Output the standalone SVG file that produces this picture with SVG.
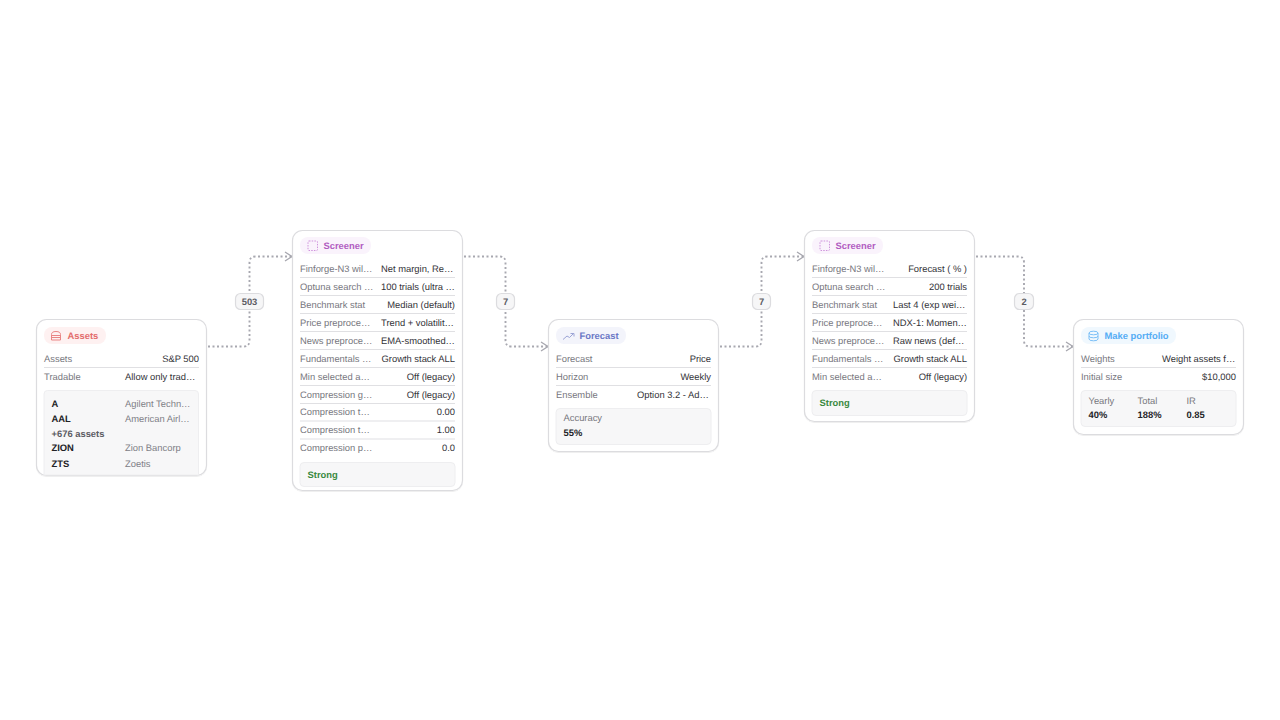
<svg xmlns="http://www.w3.org/2000/svg" width="1280" height="720" viewBox="0 0 1280 720">
<defs>
<filter id="sh" x="-5%" y="-5%" width="110%" height="110%"><feDropShadow dx="0" dy="0.8" stdDeviation="0.7" flood-color="#000" flood-opacity="0.08"/></filter>
<marker id="ah" markerUnits="userSpaceOnUse" markerWidth="10" markerHeight="12" refX="8" refY="5.500" orient="auto"><path d="M1 1L8 5.500L1 10" fill="none" stroke="#a6a6ae" stroke-width="1.300"/></marker>
</defs>
<style>
text{font-family:"Liberation Sans",Arial,sans-serif;font-size:9.400px;text-rendering:geometricPrecision}
.card{fill:#fff;stroke:#dcdcdf;stroke-width:1.200;filter:url(#sh)}
.k{fill:#77777e}
.v{fill:#333338}
.e{text-anchor:end}
.b{font-weight:700;fill:#222226}
.m{fill:#808087}
.ln{stroke:#e0e0e3;stroke-width:1.200}
.box{fill:#f7f7f8;stroke:#eeeef0;stroke-width:1}
.t{font-weight:700}
.edge{fill:none;stroke:#a8a8b0;stroke-width:1.900;stroke-dasharray:2 2.500;marker-end:url(#ah)}
.lb{fill:#f6f6f7;stroke:#dcdcdf;stroke-width:1.200}
.lt{font-weight:700;fill:#5c5c63;text-anchor:middle}
.g{font-weight:700;fill:#3a8a3f}
</style>
<g id="connectors">
<path class="edge" d="M208 346.500H243.500Q249.500 346.500 249.500 340.500V262.500Q249.500 256.500 255.500 256.500H292"/>
<path class="edge" d="M464 256.500H499.500Q505.500 256.500 505.500 262.500V340.500Q505.500 346.500 511.500 346.500H548"/>
<path class="edge" d="M720 346.500H755.500Q761.500 346.500 761.500 340.500V262.500Q761.500 256.500 767.500 256.500H804"/>
<path class="edge" d="M976 256.500H1018Q1024 256.500 1024 262.500V340.500Q1024 346.500 1030 346.500H1073"/>
<rect class="lb" x="235.500" y="293.500" width="28" height="16" rx="5"/><text class="lt" x="249.500" y="305">503</text>
<rect class="lb" x="496.500" y="293.500" width="18" height="16" rx="5"/><text class="lt" x="505.500" y="305">7</text>
<rect class="lb" x="752.500" y="293.500" width="18" height="16" rx="5"/><text class="lt" x="761.500" y="305">7</text>
<rect class="lb" x="1014.500" y="293.500" width="19" height="16" rx="5"/><text class="lt" x="1024" y="305">2</text>
</g>
<g id="node-assets">
<rect class="card" x="36.500" y="319.500" width="170" height="156" rx="10"/>
<rect x="44" y="327" width="62" height="17" rx="8" fill="#fef1f1"/>
<g fill="none" stroke="#e98585" stroke-width="1"><path d="M51.500 334.500Q51.500 331.500 56 331.500Q60.500 331.500 60.500 334.500V340H51.500Z"/><path d="M51.500 335.500H60.500M51.500 337.500H60.500"/></g>
<text class="t" x="67.500" y="339" fill="#e36c6c">Assets</text>
<text class="k" x="44" y="362">Assets</text><text class="v e" x="199" y="362">S&amp;P 500</text>
<line class="ln" x1="44" x2="199" y1="367.500" y2="367.500"/>
<text class="k" x="44" y="380">Tradable</text><text class="v" x="125" y="380">Allow only trad…</text>
<path class="box" d="M44 475V394Q44 390.500 47.500 390.500H195Q198.500 390.500 198.500 394V475Z"/>
<text class="b" x="51.500" y="407">A</text><text class="m" x="125" y="407">Agilent Techn…</text>
<text class="b" x="51.500" y="422">AAL</text><text class="m" x="125" y="422">American Airl…</text>
<text class="b" x="51.500" y="437" style="fill:#5c5c63">+676 assets</text>
<text class="b" x="51.500" y="451">ZION</text><text class="m" x="125" y="451">Zion Bancorp</text>
<text class="b" x="51.500" y="467">ZTS</text><text class="m" x="125" y="467">Zoetis</text>
</g>
<g id="node-screener-1">
<rect class="card" x="292.500" y="230.500" width="170" height="260" rx="10"/>
<rect x="300" y="237" width="71" height="17" rx="8" fill="#faf3fc"/>
<rect x="308" y="241" width="9.500" height="9.500" rx="1" fill="none" stroke="#cf93dc" stroke-dasharray="1.500 1.200"/>
<text class="t" x="323.500" y="249" fill="#b15cc1">Screener</text>
<text class="k" x="300" y="272">Finforge-N3 wil…</text><text class="v" x="381" y="272">Net margin, Re…</text>
<line class="ln" x1="300" x2="455" y1="277.500" y2="277.500"/>
<text class="k" x="300" y="290">Optuna search …</text><text class="v" x="381" y="290">100 trials (ultra …</text>
<line class="ln" x1="300" x2="455" y1="295.500" y2="295.500"/>
<text class="k" x="300" y="308">Benchmark stat</text><text class="v e" x="455" y="308">Median (default)</text>
<line class="ln" x1="300" x2="455" y1="313.500" y2="313.500"/>
<text class="k" x="300" y="326">Price preproce…</text><text class="v" x="381" y="326">Trend + volatilit…</text>
<line class="ln" x1="300" x2="455" y1="331.500" y2="331.500"/>
<text class="k" x="300" y="344">News preproce…</text><text class="v" x="381" y="344">EMA-smoothed…</text>
<line class="ln" x1="300" x2="455" y1="349.500" y2="349.500"/>
<text class="k" x="300" y="362">Fundamentals …</text><text class="v e" x="455" y="362">Growth stack ALL</text>
<line class="ln" x1="300" x2="455" y1="367.500" y2="367.500"/>
<text class="k" x="300" y="380">Min selected a…</text><text class="v e" x="455" y="380">Off (legacy)</text>
<line class="ln" x1="300" x2="455" y1="385.500" y2="385.500"/>
<text class="k" x="300" y="398">Compression g…</text><text class="v e" x="455" y="398">Off (legacy)</text>
<line class="ln" x1="300" x2="455" y1="403.500" y2="403.500"/>
<text class="k" x="300" y="415">Compression t…</text><text class="v e" x="455" y="415">0.00</text>
<line class="ln" x1="300" x2="455" y1="421" y2="421"/>
<text class="k" x="300" y="433">Compression t…</text><text class="v e" x="455" y="433">1.00</text>
<line class="ln" x1="300" x2="455" y1="439" y2="439"/>
<text class="k" x="300" y="451">Compression p…</text><text class="v e" x="455" y="451">0.0</text>
<rect class="box" x="300" y="462.500" width="155" height="24" rx="4"/>
<text class="g" x="307.500" y="478">Strong</text>
</g>
<g id="node-forecast">
<rect class="card" x="548.500" y="319.500" width="170" height="132" rx="10"/>
<rect x="556" y="327" width="70" height="17" rx="8" fill="#f3f4fb"/>
<path d="M563 339.500L567 336L569.500 337.500L573.500 333.500M570.500 333.500H574V336.500" fill="none" stroke="#9ca4d6" stroke-width="1"/>
<text class="t" x="579.500" y="339" fill="#6a78c6">Forecast</text>
<text class="k" x="556" y="362">Forecast</text><text class="v e" x="711" y="362">Price</text>
<line class="ln" x1="556" x2="711" y1="367.500" y2="367.500"/>
<text class="k" x="556" y="380">Horizon</text><text class="v e" x="711" y="380">Weekly</text>
<line class="ln" x1="556" x2="711" y1="385.500" y2="385.500"/>
<text class="k" x="556" y="398">Ensemble</text><text class="v" x="637" y="398">Option 3.2 - Ad…</text>
<rect class="box" x="556" y="408.500" width="155" height="36" rx="4"/>
<text class="k" x="563.500" y="421">Accuracy</text>
<text class="b" x="563.500" y="436">55%</text>
</g>
<g id="node-screener-2">
<rect class="card" x="804.500" y="230.500" width="170" height="191" rx="10"/>
<rect x="812" y="237" width="71" height="17" rx="8" fill="#faf3fc"/>
<rect x="820" y="241" width="9.500" height="9.500" rx="1" fill="none" stroke="#cf93dc" stroke-dasharray="1.500 1.200"/>
<text class="t" x="835.500" y="249" fill="#b15cc1">Screener</text>
<text class="k" x="812" y="272">Finforge-N3 wil…</text><text class="v e" x="967" y="272">Forecast ( % )</text>
<line class="ln" x1="812" x2="967" y1="277.500" y2="277.500"/>
<text class="k" x="812" y="290">Optuna search …</text><text class="v e" x="967" y="290">200 trials</text>
<line class="ln" x1="812" x2="967" y1="295.500" y2="295.500"/>
<text class="k" x="812" y="308">Benchmark stat</text><text class="v" x="893" y="308">Last 4 (exp wei…</text>
<line class="ln" x1="812" x2="967" y1="313.500" y2="313.500"/>
<text class="k" x="812" y="326">Price preproce…</text><text class="v" x="893" y="326">NDX-1: Momen…</text>
<line class="ln" x1="812" x2="967" y1="331.500" y2="331.500"/>
<text class="k" x="812" y="344">News preproce…</text><text class="v" x="893" y="344">Raw news (def…</text>
<line class="ln" x1="812" x2="967" y1="349.500" y2="349.500"/>
<text class="k" x="812" y="362">Fundamentals …</text><text class="v e" x="967" y="362">Growth stack ALL</text>
<line class="ln" x1="812" x2="967" y1="367.500" y2="367.500"/>
<text class="k" x="812" y="380">Min selected a…</text><text class="v e" x="967" y="380">Off (legacy)</text>
<rect class="box" x="812" y="390.500" width="155" height="25" rx="4"/>
<text class="g" x="819.500" y="406">Strong</text>
</g>
<g id="node-portfolio">
<rect class="card" x="1073.500" y="319.500" width="170" height="115" rx="10"/>
<rect x="1081" y="327" width="95" height="17" rx="8" fill="#f0f8fe"/>
<g fill="none" stroke="#7cc0f7" stroke-width="1"><ellipse cx="1093.500" cy="333" rx="4.500" ry="1.800"/><path d="M1089 333V339Q1089 340.800 1093.500 340.800Q1098 340.800 1098 339V333M1089 336Q1089 337.800 1093.500 337.800Q1098 337.800 1098 336"/></g>
<text class="t" x="1104.500" y="339" fill="#55adf5">Make portfolio</text>
<text class="k" x="1081" y="362">Weights</text><text class="v" x="1162" y="362">Weight assets f…</text>
<line class="ln" x1="1081" x2="1236" y1="367.500" y2="367.500"/>
<text class="k" x="1081" y="380">Initial size</text><text class="v e" x="1236" y="380">$10,000</text>
<rect class="box" x="1081" y="390.500" width="155" height="36" rx="4"/>
<text class="k" x="1088.500" y="404">Yearly</text><text class="k" x="1137.500" y="404">Total</text><text class="k" x="1186.500" y="404">IR</text>
<text class="b" x="1088.500" y="418">40%</text><text class="b" x="1137.500" y="418">188%</text><text class="b" x="1186.500" y="418">0.85</text>
</g>
</svg>
